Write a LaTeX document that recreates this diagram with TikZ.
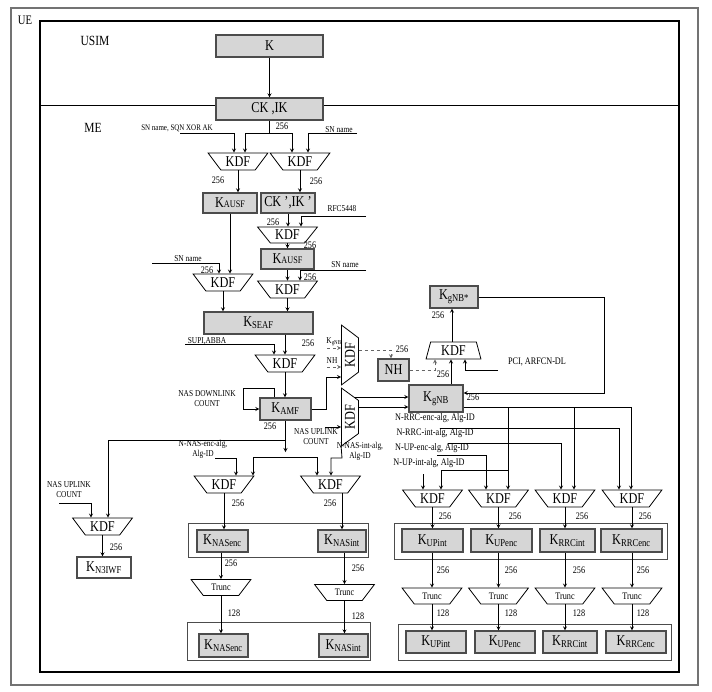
\documentclass[tikz,border=0pt]{standalone}
\usepackage{fontspec}
\setmainfont{Liberation Serif}[FakeStretch=0.82]
\usetikzlibrary{shapes.geometric}
\begin{document}
\begin{tikzpicture}[x=1pt,y=-1pt,thick,>=stealth,
	key/.style={draw=black!70,line width=1.2pt,fill=black!16,inner sep=0pt,font=\fontsize{15}{15}\selectfont},
	kdf/.style={draw,trapezium,trapezium angle=47,shape border rotate=180,trapezium stretches=true,minimum width=60,minimum height=17,inner sep=0pt,font=\fontsize{15}{15}\selectfont},
	trunc/.style={kdf,trapezium angle=45,minimum height=16,font=\fontsize{10}{10}\selectfont},
	num/.style={inner sep=0pt,font=\fontsize{10}{10}\selectfont},
	lbl/.style={inner sep=0pt,font=\fontsize{9}{10}\selectfont,align=center},
	alg/.style={inner sep=0pt,font=\fontsize{10}{10}\selectfont},
	grp/.style={draw=black!70,line width=1pt}]
	\useasboundingbox (0,0) rectangle (712,691);
	% frames
	\draw[line width=1.5pt,black!55] (11,8) rectangle (698,685);
	\draw[line width=1.2pt] (40,21) rectangle (679,672);
	\draw (40,105) -- (679,105);
	\node[font=\fontsize{13}{13}\selectfont] (ue) at (25,20) {UE};
	\node[font=\fontsize{14}{14}\selectfont] (usim) at (95,41) {USIM};
	\node[font=\fontsize{14}{14}\selectfont] (me) at (93,128) {ME};
	% USIM
	\node[key,minimum width=107,minimum height=22] (k) at (269.5,46) {K};
	\node[key,minimum width=107,minimum height=22] (ckik) at (269.5,109) {CK ,IK};
	\draw[->] (k) -- (ckik);
	% AUSF / SEAF / AMF chain
	\node[kdf] (kdfa) at (238,161.5) {KDF};
	\node[kdf] (kdfb) at (300,161.5) {KDF};
	\node[key,minimum width=54,minimum height=20] (kausfa) at (230,203) {K{\fontsize{10}{10}\selectfont AUSF}};
	\node[key,minimum width=54,minimum height=20] (ckikb) at (288,203) {CK ’,IK ’};
	\node[kdf,minimum height=16] (kdfc) at (287.5,235) {KDF};
	\node[key,minimum width=53,minimum height=20] (kausfb) at (287.5,259) {K{\fontsize{10}{10}\selectfont AUSF}};
	\node[kdf] (kdfd) at (287.5,289.5) {KDF};
	\node[kdf] (kdfe) at (223,282.5) {KDF};
	\node[key,minimum width=109,minimum height=22] (kseaf) at (258.5,323) {K\textsubscript{SEAF}};
	\node[kdf] (kdff) at (285,363.5) {KDF};
	\node[key,minimum width=51,minimum height=22] (kamf) at (285.5,409) {K\textsubscript{AMF}};
	\node[lbl,font=\fontsize{8.5}{9}\selectfont] (snsqn) at (177,128) {SN name, SQN XOR AK};
	\node[lbl] (sna) at (339,130) {SN name};
	\node[lbl] (rfc) at (342,209) {RFC5448};
	\node[lbl] (snb) at (345,265) {SN name};
	\node[lbl] (snc) at (188,259) {SN name};
	\node[lbl] (supi) at (207,341) {SUPI,ABBA};
	\node[lbl] (nasdl) at (207,399) {NAS DOWNLINK\\COUNT};
	\node[num] (w1) at (282,126) {256};
	\node[num] (w2) at (218,180) {256};
	\node[num] (w3) at (316,181) {256};
	\node[num] (w4) at (273,222) {256};
	\node[num] (w5) at (310,245) {256};
	\node[num] (w6) at (310,277) {256};
	\node[num] (w7) at (207,270) {256};
	\node[num] (w8) at (308,343) {256};
	\node[num] (w9) at (270,426) {256};
	\draw (ckik) -- (269.5,133);
	\draw[->] (269.5,133) -| (245,0 |- kdfa.north);
	\draw[->] (269.5,133) -| (292,0 |- kdfb.north);
	\draw[->] (180,133) -| (234,0 |- kdfa.north);
	\draw[->] (357,133) -| (308,0 |- kdfb.north);
	\draw[->] (kdfa.south) -- (kdfa.south |- kausfa.north);
	\draw[->] (kdfb.south) -- (kdfb.south |- ckikb.north);
	\draw[->] (ckikb.south) -- (ckikb.south |- kdfc.north);
	\draw[->] (366,216) -| (301,0 |- kdfc.north);
	\draw[->] (kdfc.south) -- (kdfc.south |- kausfb.north);
	\draw[->] (kausfb.south) -- (kausfb.south |- kdfd.north);
	\draw[->] (366,270) -| (300,0 |- kdfd.north);
	\draw[->] (kausfa.south) -- (kausfa.south |- kdfe.north);
	\draw[->] (152,263) -| (219,0 |- kdfe.north);
	\draw[->] (kdfe.south) -- (kdfe.south |- kseaf.north);
	\draw[->] (kdfd.south) -- (kdfd.south |- kseaf.north);
	\draw[->] (kdff.north |- kseaf.south) -- (kdff.north);
	\draw[->] (185,344) -| (274,0 |- kdff.north);
	\draw[->] (kdff.south) -- (kdff.south |- kamf.north);
	\draw[->] (274,0 |- kamf.north) -- (274,388) -- (243,388) |- (kamf.west);
	% gNB part
	\node[kdf,rotate=90] (kdfv) at (350,355) {KDF};
	\node[kdf,rotate=90,minimum width=58] (kdfw) at (350,417) {KDF};
	\node[key,minimum width=31,minimum height=22] (nh) at (393.5,370) {NH};
	\node[kdf,shape border rotate=0,trapezium angle=76,minimum width=55] (kdfg) at (453.5,350.5) {KDF};
	\node[key,minimum width=48,minimum height=22] (kgnbs) at (454,297) {K\textsubscript{gNB*}};
	\node[key,minimum width=54,minimum height=27] (kgnb) at (436,398.5) {K\textsubscript{gNB}};
	\node[lbl] (kgnbin) at (334,342) {K\textsubscript{gNB}};
	\node[lbl] (nhin) at (332,361) {NH};
	\node[alg] (pci) at (537,362) {PCI, ARFCN-DL};
	\node[lbl] (nasulb) at (316,437) {NAS UPLINK\\COUNT};
	\node[lbl] (nasint) at (360,451) {N-NAS-int-alg,\\Alg-ID};
	\node[num] (w10) at (402,349) {256};
	\node[num] (w11) at (443,374) {256};
	\node[num] (w12) at (438,315) {256};
	\node[num] (w13) at (473,397) {256};
	\draw[->] (kamf.east) -| (326,377) -- (kdfv.north |- 0,377);
	\draw[->,dashed,black!60] (327,348) -- (kdfv.north |- 0,348);
	\draw[->,dashed,black!60] (327,367) -- (kdfv.north |- 0,367);
	\draw[->,dashed,black!60] (kdfv.south |- 0,350) -| (391,0 |- nh.north);
	\draw[->,dashed,black!60] (nh.east) -| (435,0 |- kdfg.south);
	\draw[->] (451,0 |- kgnb.north) -- (451,0 |- kdfg.south);
	\draw[->] (498,370) -| (465,0 |- kdfg.south);
	\draw[->] (452,0 |- kdfg.north) -- (452,0 |- kgnbs.south);
	\draw[->] (kgnbs.east) -| (604,393) -- (kgnb.east |- 0,393);
	\draw[->] (355,397) -- (kgnb.west |- 0,397);
	\draw[->] (kdfw.south |- 0,407) -- (kgnb.west |- 0,407);
	\draw[->] (325,427) -- (kdfw.north |- 0,427);
	% AS keys
	\node[alg] (rrcenc) at (435,418) {N-RRC-enc-alg, Alg-ID};
	\node[alg] (rrcint) at (435,433) {N-RRC-int-alg, Alg-ID};
	\node[alg] (upenc) at (432,448) {N-UP-enc-alg, Alg-ID};
	\node[alg] (upint) at (429,463) {N-UP-int-alg, Alg-ID};
	\node[kdf] (kdf1) at (432.5,498.5) {KDF};
	\node[kdf] (kdf2) at (498.5,498.5) {KDF};
	\node[kdf] (kdf3) at (565,498.5) {KDF};
	\node[kdf] (kdf4) at (632,498.5) {KDF};
	\draw[grp] (394,523) rectangle (667,559);
	\node[key,minimum width=61,minimum height=23] (ku1) at (432.5,540.5) {K\textsubscript{UPint}};
	\node[key,minimum width=61,minimum height=23] (ku2) at (501.5,540.5) {K\textsubscript{UPenc}};
	\node[key,minimum width=55,minimum height=23] (ku3) at (567.5,540.5) {K\textsubscript{RRCint}};
	\node[key,minimum width=61,minimum height=23] (ku4) at (631.5,540.5) {K\textsubscript{RRCenc}};
	\node[trunc] (tr1) at (432,596) {Trunc};
	\node[trunc] (tr2) at (498.5,596) {Trunc};
	\node[trunc] (tr3) at (565,596) {Trunc};
	\node[trunc] (tr4) at (632,596) {Trunc};
	\draw[grp] (398,624) rectangle (671,660);
	\node[key,minimum width=60,minimum height=22] (kv1) at (436,642) {K\textsubscript{UPint}};
	\node[key,minimum width=60,minimum height=22] (kv2) at (505,642) {K\textsubscript{UPenc}};
	\node[key,minimum width=54,minimum height=22] (kv3) at (570,642) {K\textsubscript{RRCint}};
	\node[key,minimum width=60,minimum height=22] (kv4) at (636,642) {K\textsubscript{RRCenc}};
	\node[num] (x1) at (445,516) {256};
	\node[num] (x2) at (515,516) {256};
	\node[num] (x3) at (582,516) {256};
	\node[num] (x4) at (645,516) {256};
	\node[num] (y1) at (443,570) {256};
	\node[num] (y2) at (511,570) {256};
	\node[num] (y3) at (579,570) {256};
	\node[num] (y4) at (643,570) {256};
	\node[num] (z1) at (443,613) {128};
	\node[num] (z2) at (511,613) {128};
	\node[num] (z3) at (579,613) {128};
	\node[num] (z4) at (643,613) {128};
	\draw (kgnb.east |- 0,407) -- (631,407);
	\draw[->] (508,407) -- (508,0 |- kdf2.north);
	\draw[->] (574,407) -- (574,0 |- kdf3.north);
	\draw[->] (631,407) -- (631,0 |- kdf4.north);
	\draw[->] (508,470) -| (441,0 |- kdf1.north);
	\draw[->] (440,428) -| (619,0 |- kdf4.north);
	\draw[->] (448,443) -| (561,0 |- kdf3.north);
	\draw[->] (437,455) -| (486,0 |- kdf2.north);
	\draw[->] (423,474) -- (423,0 |- kdf1.north);
	\draw[->] (kdf1.south) -- (kdf1.south |- ku1.north);
	\draw[->] (kdf2.south) -- (kdf2.south |- ku2.north);
	\draw[->] (kdf3.south) -- (kdf3.south |- ku3.north);
	\draw[->] (kdf4.south) -- (kdf4.south |- ku4.north);
	\draw[->] (tr1.north |- ku1.south) -- (tr1.north);
	\draw[->] (tr2.north |- ku2.south) -- (tr2.north);
	\draw[->] (tr3.north |- ku3.south) -- (tr3.north);
	\draw[->] (tr4.north |- ku4.south) -- (tr4.north);
	\draw[->] (tr1.south) -- (tr1.south |- kv1.north);
	\draw[->] (tr2.south) -- (tr2.south |- kv2.north);
	\draw[->] (tr3.south) -- (tr3.south |- kv3.north);
	\draw[->] (tr4.south) -- (tr4.south |- kv4.north);
	% NAS keys and N3IWF
	\node[lbl] (nasenc) at (203,449) {N-NAS-enc-alg,\\Alg-ID};
	\node[lbl] (nasula) at (69,490) {NAS UPLINK\\COUNT};
	\node[kdf] (kdfh) at (224,484.5) {KDF};
	\node[kdf] (kdfi) at (330.5,484.5) {KDF};
	\node[kdf] (kdfj) at (102.5,526.5) {KDF};
	\node[draw=black!70,line width=1.2pt,inner sep=0pt,font=\fontsize{15}{15}\selectfont,minimum width=54,minimum height=21] (kn3) at (104,567.5) {K\textsubscript{N3IWF}};
	\draw[grp] (188,523) rectangle (368,557);
	\node[key,minimum width=51,minimum height=22] (kna) at (222.5,541) {K\textsubscript{NASenc}};
	\node[key,minimum width=48,minimum height=22] (kni) at (342,541) {K\textsubscript{NASint}};
	\node[trunc] (trl1) at (221,587.5) {Trunc};
	\node[trunc] (trl2) at (344.5,592.5) {Trunc};
	\draw[grp] (187,622) rectangle (370,660);
	\node[key,minimum width=49,minimum height=23] (knb) at (223.5,645.5) {K\textsubscript{NASenc}};
	\node[key,minimum width=49,minimum height=23] (knj) at (343.5,645.5) {K\textsubscript{NASint}};
	\node[num] (v1) at (238,503) {256};
	\node[num] (v2) at (330,503) {256};
	\node[num] (v3) at (231,563) {256};
	\node[num] (v4) at (358,568) {256};
	\node[num] (v5) at (234,613) {128};
	\node[num] (v6) at (358,616) {128};
	\node[num] (v7) at (116,547) {256};
	\draw[->] (kamf.south) -- (kamf.south |- 0,452);
	\draw (253,457) -- (317,457);
	\draw[->] (253,457) -- (253,0 |- kdfh.north);
	\draw[->] (317,457) -- (317,0 |- kdfi.north);
	\draw[->] (kamf.south |- 0,440) -| (108,0 |- kdfj.north);
	\draw[->] (215,458) -| (236,0 |- kdfh.north);
	\draw[->] (kdfw.north |- 0,446) -- (342,458) -| (331,0 |- kdfi.north);
	\draw[->] (59,503) -| (91,0 |- kdfj.north);
	\draw[->] (kdfj.south) -- (kdfj.south |- kn3.north);
	\draw[->] (kdfh.south) -- (kdfh.south |- kna.north);
	\draw[->] (kni.north |- kdfi.south) -- (kni.north);
	\draw[->] (trl1.north |- kna.south) -- (trl1.north);
	\draw[->] (trl2.north |- kni.south) -- (trl2.north);
	\draw[->] (trl1.south) -- (trl1.south |- knb.north);
	\draw[->] (trl2.south) -- (trl2.south |- knj.north);
\end{tikzpicture}
\end{document}
